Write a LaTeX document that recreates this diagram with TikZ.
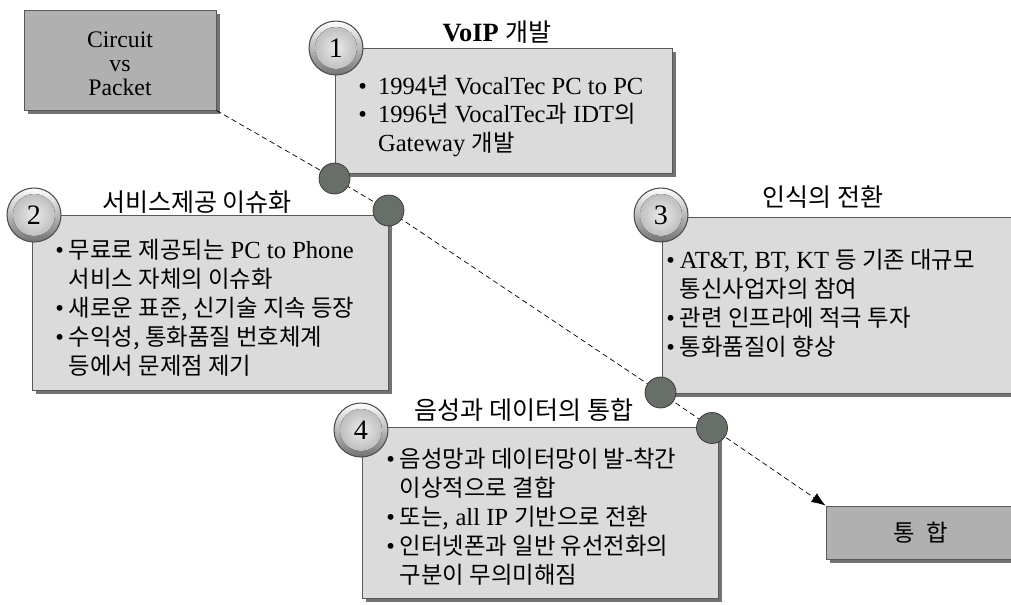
\documentclass[tikz,border=0pt]{standalone}
\usepackage{fontspec}
\setmainfont{Liberation Serif}
\newfontfamily\krfont{Noto Sans CJK KR}[Scale=0.95]
\usetikzlibrary{arrows.meta,shadows}
\definecolor{dotgray}{RGB}{104,110,104}
\newcommand\K[1]{{\krfont #1}}
\newcommand\bul{\makebox[0.55em][l]{\textbullet}}
\newcommand\ind{\hspace*{0.55em}}

\begin{document}
\begin{tikzpicture}[x=0.02cm,y=-0.02cm,
    panel/.style={rectangle,draw=black!65,fill=black!14,line width=0.5pt,inner sep=0pt,
      drop shadow={shadow xshift=2.2pt,shadow yshift=-2.2pt,fill=black!55,opacity=1}},
    darkpanel/.style={panel,fill=black!31},
    ball/.style={circle,draw=black!70,line width=0.6pt,minimum size=1.08cm,inner sep=0pt,
      top color=white,bottom color=black!55,font=\fontsize{16}{16}\selectfont,
      path picture={\fill[inner color=black!8,outer color=black!30] (path picture bounding box.center) circle (0.42cm);}},
    dot/.style={circle,draw=black!80,fill=dotgray,minimum size=0.62cm,inner sep=0pt},
    title/.style={font=\fontsize{15}{17}\selectfont},
    body/.style={anchor=west,align=left,inner sep=0pt,font=\fontsize{14}{16.5}\selectfont},
    link/.style={dash pattern=on 3pt off 2pt,line width=0.4pt}]
  \useasboundingbox (0,0) rectangle (1011,605);

  \node[darkpanel,minimum width=3.84cm,minimum height=2cm,align=center,font=\fontsize{13.5}{13.7}\selectfont] (circuit) at (120,60) {\rule{0pt}{13.5pt}Circuit\\vs\\Packet};
  \node[panel,minimum width=6.74cm,minimum height=2.5cm] (box1) at (503.5,110.5) {};
  \node[panel,minimum width=7.12cm,minimum height=3.5cm] (box2) at (210,302.5) {};
  \node[panel,minimum width=7.08cm,minimum height=3.52cm] (box3) at (839,305) {};
  \node[panel,minimum width=7.12cm,minimum height=3.42cm] (box4) at (540,512.5) {};
  \node[darkpanel,minimum width=3.8cm,minimum height=1.06cm,font=\fontsize{14}{16}\selectfont] (merge) at (921,532.5) {\K{통\enspace 합}};

  \coordinate (p1) at (334.5,178.5);
  \coordinate (p2) at (388.5,210.5);
  \coordinate (p3) at (660.5,392.5);
  \coordinate (p4) at (712,428);
  \draw[link,-{Latex[length=8pt,width=6pt]}] (circuit.south east) -- (p1) -- (p2) -- (p3) -- (p4) -- (merge.north west);
  \node[dot] (d1) at (p1) {};
  \node[dot] (d2) at (p2) {};
  \node[dot] (d3) at (p3) {};
  \node[dot] (d4) at (p4) {};

  \node[ball] (n1) at (336,48) {1};
  \node[ball] (n2) at (34,215) {2};
  \node[ball] (n3) at (661,215) {3};
  \node[ball] (n4) at (361,430) {4};

  \node[title] (t1) at (497,32) {\textbf{VoIP} \K{개발}};
  \node[title] (t2) at (197,202) {\K{서비스제공 이슈화}};
  \node[title] (t3) at (823,197) {\K{인식의 전환}};
  \node[title] (t4) at (524,410) {\K{음성과 데이터의 통합}};

  \node[body] (txt1) at (358,116) {\bul\ 1994\K{년} VocalTec PC to PC\\ \bul\ 1996\K{년} VocalTec\K{과} IDT\K{의}\\ \ind\ Gateway \K{개발}};
  \node[body] (txt2) at (55,307.5) {\bul\K{무료로 제공되는} PC to Phone\\ \ind\K{서비스 자체의 이슈화}\\ \bul\K{새로운 표준, 신기술 지속 등장}\\ \bul\K{수익성, 통화품질 번호체계}\\ \ind\K{등에서 문제점 제기}};
  \node[body] (txt3) at (666,303) {\bul AT\&T, BT, KT \K{등 기존 대규모}\\ \ind\K{통신사업자의 참여}\\ \bul\K{관련 인프라에 적극 투자}\\ \bul\K{통화품질이 향상}};
  \node[body] (txt4) at (386,516.5) {\bul\K{음성망과 데이터망이 발-착간}\\ \ind\K{이상적으로 결합}\\ \bul\K{또는,} all IP \K{기반으로 전환}\\ \bul\K{인터넷폰과 일반 유선전화의}\\ \ind\K{구분이 무의미해짐}};
\end{tikzpicture}
\end{document}
